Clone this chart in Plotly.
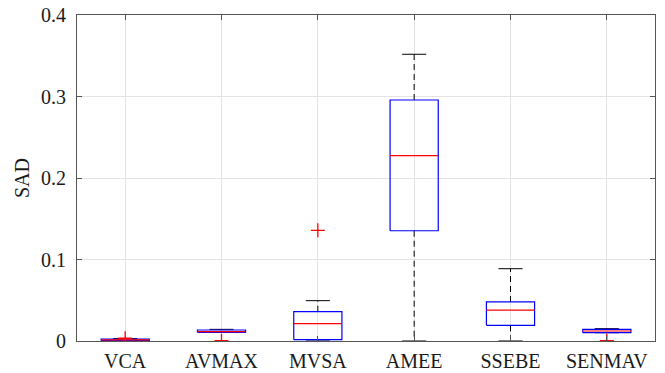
import plotly.graph_objects as go

categories = ["VCA", "AVMAX", "MVSA", "AMEE", "SSEBE", "SENMAV"]
lower_whisker = [0.0002, 0.0107, 0.0, 0.0, 0.0, 0.0102]
q1 = [0.0006, 0.0107, 0.0016, 0.1353, 0.0192, 0.0102]
median = [0.0013, 0.0114, 0.0212, 0.2274, 0.0380, 0.0123]
q3 = [0.0022, 0.0135, 0.0360, 0.2957, 0.0479, 0.0143]
upper_whisker = [0.0030, 0.0143, 0.0495, 0.3518, 0.0887, 0.0151]
outlier_cat = [0, 1, 2, 5]
outlier_val = [0.0034, 0.0004, 0.1358, 0.0004]

y_ticks = [0, 0.1, 0.2, 0.3, 0.4]
y_tick_labels = ["0", "0.1", "0.2", "0.3", "0.4"]

half_w = 0.25
cap_w = 0.125
FONT = "Liberation Serif"

fig = go.Figure()

# whiskers (dashed)
wx, wy = [], []
for i in range(len(categories)):
    wx += [i, i, None, i, i, None]
    wy += [q3[i], upper_whisker[i], None, q1[i], lower_whisker[i], None]
fig.add_trace(go.Scatter(x=wx, y=wy, mode="lines",
                         line=dict(color="#000000", width=1, dash="6px,4px"),
                         hoverinfo="skip", showlegend=False))

# caps
cx, cy = [], []
for i in range(len(categories)):
    cx += [i - cap_w, i + cap_w, None, i - cap_w, i + cap_w, None]
    cy += [upper_whisker[i], upper_whisker[i], None, lower_whisker[i], lower_whisker[i], None]
fig.add_trace(go.Scatter(x=cx, y=cy, mode="lines",
                         line=dict(color="#000000", width=1),
                         hoverinfo="skip", showlegend=False))

# boxes
bx, by = [], []
for i in range(len(categories)):
    bx += [i - half_w, i + half_w, i + half_w, i - half_w, i - half_w, None]
    by += [q1[i], q1[i], q3[i], q3[i], q1[i], None]
fig.add_trace(go.Scatter(x=bx, y=by, mode="lines",
                         line=dict(color="#0000ff", width=1.2),
                         hoverinfo="skip", showlegend=False))

# medians
mx, my = [], []
for i in range(len(categories)):
    mx += [i - half_w, i + half_w, None]
    my += [median[i], median[i], None]
fig.add_trace(go.Scatter(x=mx, y=my, mode="lines",
                         line=dict(color="#ff0000", width=1.2),
                         hoverinfo="skip", showlegend=False))

# outliers
fig.add_trace(go.Scatter(x=outlier_cat, y=outlier_val, mode="markers",
                         marker=dict(symbol="cross-thin", size=10,
                                     line=dict(color="#ff0000", width=1.3)),
                         hoverinfo="skip", showlegend=False))

axis_common = dict(showline=True, linecolor="#555555", linewidth=1, mirror="ticks",
                   ticks="inside", ticklen=5, tickcolor="#555555",
                   showgrid=True, gridcolor="#e3e3e3", gridwidth=1, zeroline=False,
                   automargin=False,
                   tickfont=dict(family=FONT, size=20, color="#1a1a1a"))

fig.update_xaxes(range=[-0.5, 5.5], tickmode="array",
                 tickvals=list(range(len(categories))), ticktext=categories,
                 ticklabelstandoff=2,
                 **axis_common)
fig.update_yaxes(range=[0, 0.4], tickmode="array", tickvals=y_ticks,
                 ticktext=y_tick_labels, ticklabelstandoff=6,
                 title=dict(text="SAD", font=dict(family=FONT, size=20, color="#1a1a1a"),
                            standoff=6),
                 **axis_common)

fig.update_layout(width=665, height=373,
                  margin=dict(l=77, r=10, t=15, b=32),
                  paper_bgcolor="white", plot_bgcolor="white",
                  font=dict(family=FONT, size=20, color="#1a1a1a"))

fig.write_html("out.html")
